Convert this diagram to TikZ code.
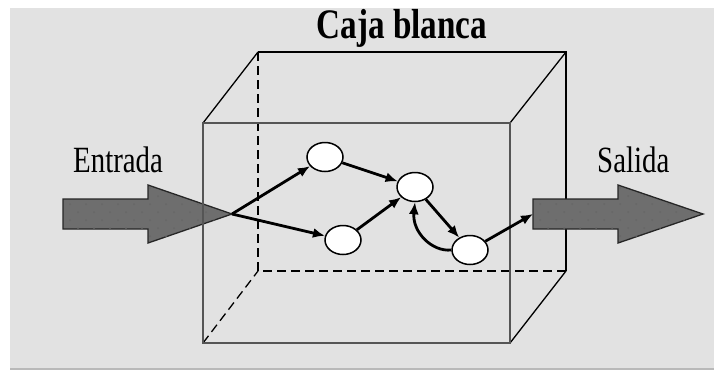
\documentclass[tikz,border=0pt]{standalone}
\usepackage{fontspec}
\setmainfont{Liberation Serif}
\usetikzlibrary{arrows.meta,shapes.geometric}
\definecolor{bggray}{RGB}{226,226,226}
\definecolor{bigarrow}{RGB}{110,110,110}
\definecolor{frontedge}{RGB}{85,85,85}
\tikzset{
  backline/.style={black,line width=1.3pt},
  hidden/.style={black,line width=1.3pt,dash pattern=on 9pt off 5pt},
  frontline/.style={frontedge,line width=1.8pt},
  statenode/.style={ellipse,draw=black,fill=white,line width=1.5pt,minimum width=36pt,minimum height=29pt,inner sep=0pt},
  conn/.style={black,line width=2.8pt,-{Latex[length=12pt,width=10pt]}},
  bigarr/.style={fill=bigarrow,draw=black!85,line width=1.3pt},
  lbl/.style={inner sep=0pt,anchor=base west,font=\fontsize{37}{40}\selectfont},
}
\begin{document}
\begin{tikzpicture}[x=1pt,y=-1pt]
\useasboundingbox (0,0) rectangle (714,370);
\fill[bggray] (10,8) rectangle (714,368);
\fill[gray!55] (10,368) rectangle (714,370);
% title
\node[inner sep=0pt,anchor=base,font=\fontsize{42}{44}\selectfont\bfseries] (title) at (402,38) {\scalebox{0.79}[1]{Caja blanca}};
% back face
\coordinate (b1) at (258,52); \coordinate (b2) at (566,52);
\coordinate (b3) at (566,271); \coordinate (b4) at (258,271);
\coordinate (f1) at (203,123); \coordinate (f2) at (510,123);
\coordinate (f3) at (510,343); \coordinate (f4) at (203,343);
\draw[backline] (b1) -- (b2) -- (b3);
\draw[hidden] (b1) -- (b4) -- (b3);
\draw[backline] (f1) -- (b1) (f2) -- (b2) (f3) -- (b3);
\draw[hidden] (f4) -- (b4);
% left big arrow
\coordinate (tipL) at (232,214);
\path[bigarr] (63,199) -- (148,199) -- (148,185) -- (tipL) -- (148,243) -- (148,229) -- (63,229) -- cycle;
\begin{scope}
\clip (63,199) -- (148,199) -- (148,185) -- (tipL) -- (148,243) -- (148,229) -- (63,229) -- cycle;
\foreach \r in {0,...,8}{\foreach \c in {0,...,11}{
  \fill[black!60] ({70+16*\c+8*mod(\r,2)},{188+8*\r}) circle (1);}}
\end{scope}
% front face
\draw[frontline] (f1) rectangle (f3);
% right big arrow
\coordinate (tipR) at (533,214);
\path[bigarr] (533,199) -- (618,199) -- (618,185) -- (703,214) -- (618,243) -- (618,229) -- (533,229) -- cycle;
\begin{scope}
\clip (533,199) -- (618,199) -- (618,185) -- (703,214) -- (618,243) -- (618,229) -- (533,229) -- cycle;
\foreach \r in {0,...,8}{\foreach \c in {0,...,11}{
  \fill[black!60] ({540+16*\c+8*mod(\r,2)},{188+8*\r}) circle (1);}}
\end{scope}
% labels
\node[lbl] (entrada) at (73,172) {\scalebox{0.78}[1]{Entrada}};
\node[lbl] (salida) at (597,172) {\scalebox{0.78}[1]{Salida}};
% state nodes
\node[statenode] (A) at (325,157) {};
\node[statenode] (B) at (343,240) {};
\node[statenode] (C) at (415,187) {};
\node[statenode] (D) at (470,250) {};
% connectors
\draw[conn] (tipL) -- (A);
\draw[conn] (tipL) -- (B);
\draw[conn] (A) -- (C);
\draw[conn] (B) -- (C);
\draw[conn] (C) -- (D);
\draw[conn] (D.west) .. controls (432,252) and (412,232) .. (C.south);
\draw[conn] (D) -- (tipR);
\end{tikzpicture}
\end{document}
